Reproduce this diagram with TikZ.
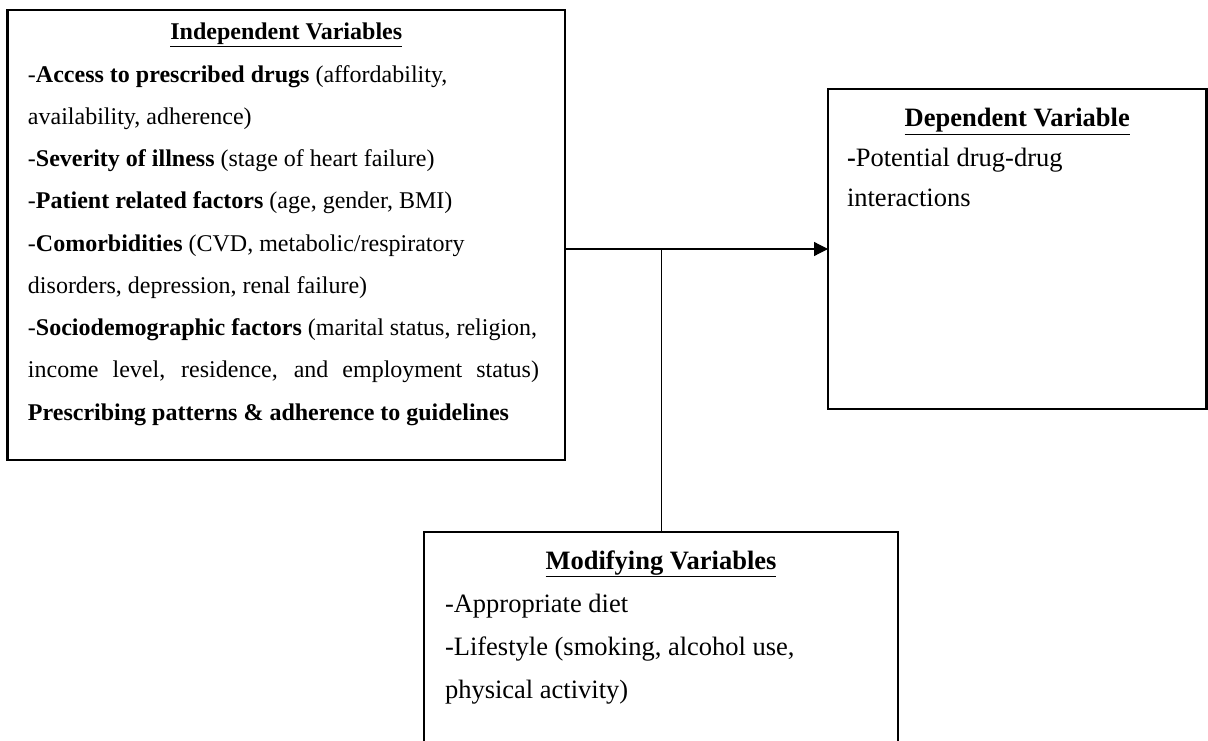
\documentclass[tikz,border=0pt]{standalone}
\usepackage{fontspec}
\setmainfont{Liberation Serif}
\usetikzlibrary{positioning}
\usetikzlibrary{arrows.meta}

\begin{document}
\begin{tikzpicture}[x=1pt, y=1pt,
    box/.style={draw, line width=2.7pt, inner sep=0pt, outer sep=0pt},
    link/.style={line width=1.2pt}]

    \path[use as bounding box, clip] (0,0) rectangle (1208,-741);

    \node(IV)[box, anchor=north west] at (7.5,-10){\parbox[t][450pt][t]{557.5pt}{\fontsize{24}{42.25}\selectfont
        {\leftskip=0pt plus 1fil\rightskip=0pt plus 1fil\parfillskip=0pt
        \rule{0pt}{30pt}\textbf{\underline{Independent Variables}}\par}
        \leftskip=20.5pt\rightskip=0pt plus 1fil
        -\textbf{Access to prescribed drugs} (affordability,\\
        availability, adherence)\\
        -\textbf{Severity of illness} (stage of heart failure)\\
        -\textbf{Patient related factors} (age, gender, BMI)\\
        -\textbf{Comorbidities} (CVD, metabolic/respiratory\\
        disorders, depression, renal failure)\\
        -\textbf{Sociodemographic factors} (marital status, religion,\\
        \makebox[511pt][s]{income level, residence, and employment status)}\\
        \textbf{Prescribing patterns \& adherence to guidelines}\par}};

    \node(DV)[box, below right=79pt and 263pt of IV.north east]{\parbox[t][320pt][t]{378.5pt}{\fontsize{26.5}{40}\selectfont
        {\leftskip=0pt plus 1fil\rightskip=0pt plus 1fil\parfillskip=0pt
        \rule{0pt}{38pt}\textbf{\underline{Dependent Variable}}\par}
        \leftskip=19pt\rightskip=0pt plus 1fil
        \textbf{-}Potential drug-drug\\
        interactions\par}};

    \node(MV)[box, below right=72pt and 416.5pt of IV.south west]{\parbox[t][240pt][t]{474pt}{\fontsize{26.5}{43}\selectfont
        {\leftskip=0pt plus 1fil\rightskip=0pt plus 1fil\parfillskip=0pt
        \rule{0pt}{37pt}\textbf{\underline{Modifying Variables}}\par}
        \leftskip=21pt\rightskip=0pt plus 1fil
        -Appropriate diet\\
        -Lifestyle (smoking, alcohol use,\\
        physical activity)\par}};

    \coordinate(J) at ([yshift=283pt]MV.north);
    \draw[link, -{Triangle[length=14pt, width=14pt]}] (IV.east |- J) -- (DV.west |- J);
    \draw[link, line width=1pt] (J) -- (MV.north);

\end{tikzpicture}
\end{document}
